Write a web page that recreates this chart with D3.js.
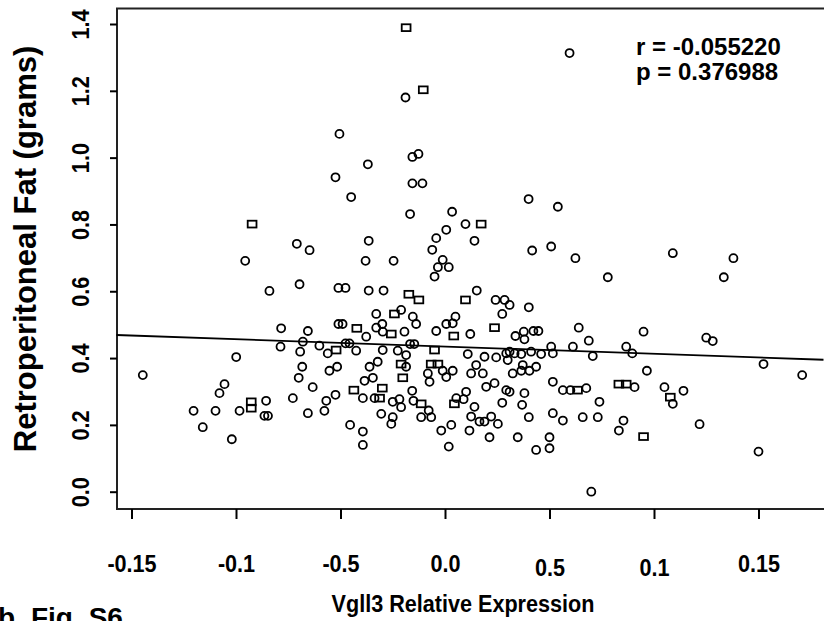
<!DOCTYPE html>
<html>
<head>
<meta charset="utf-8">
<script src="https://cdn.jsdelivr.net/npm/d3@7"></script>
<style>
  html, body { margin: 0; padding: 0; background: #fff; overflow: hidden; }
  text { font-family: "Liberation Sans", Arial, sans-serif; font-weight: bold; fill: #000; }
</style>
</head>
<body>
<div id="chart"></div>
<script>
// Scatter of Vgll3 expression vs retroperitoneal fat

// point values: x, y and marker kind (c = circle, s = square)
const ptX = [
  -0.0186, -0.0104, -0.0189, -0.0505, -0.0156, -0.0127, -0.0369, -0.0524, -0.0156, -0.0108,
  -0.0449, 0.0400, 0.0596, -0.0923, -0.0709, -0.0648, -0.0956, -0.0840, -0.0696, -0.0510,
  -0.0476, -0.0784, -0.0656, -0.0510, -0.0490, -0.0422, -0.0787, -0.0680, -0.0693, -0.0601,
  -0.0561, -0.0521, -0.0476, -0.0457, -0.0425, -0.0999, -0.0167, 0.0034, 0.0540, 0.0098,
  0.0173, 0.0006, -0.0365, -0.0042, 0.0141, -0.0061, 0.0417, 0.0508, 0.0624, -0.0380,
  -0.0246, -0.0011, -0.0034, 0.0018, -0.0050, -0.0365, -0.0294, -0.0173, -0.0125, 0.0152,
  0.0098, 0.0242, 0.0285, 0.0309, 0.0274, 0.0401, -0.0329, -0.0242, -0.0210, -0.0154,
  0.0050, -0.0329, -0.0300, -0.0298, -0.0257, -0.0194, -0.0138, -0.0042, 0.0006, 0.0037,
  0.0042, 0.0121, 0.0237, 0.0337, 0.0377, 0.0423, 0.0447, 0.0380, 0.0640, -0.0377,
  -0.0298, -0.0226, -0.0186, -0.0167, -0.0147, -0.0050, 0.0109, 0.0189, 0.0293, 0.0333,
  0.0412, 0.0460, 0.0508, 0.0516, 0.0612, 0.0688, 0.1090, 0.1380, 0.0779, 0.1334,
  0.0867, 0.0950, 0.1250, 0.1281, 0.0707, 0.0896, -0.1446, -0.0683, -0.0700, -0.0553,
  -0.0516, -0.1055, -0.1079, -0.0633, -0.0436, -0.0728, -0.1203, -0.1098, -0.0983, -0.0927,
  -0.0927, -0.0856, -0.0864, -0.0847, -0.0656, -0.0577, -0.0568, -0.0524, -0.1159, -0.1020,
  -0.0454, 0.0245, 0.0309, 0.0300, 0.0365, -0.0361, -0.0322, -0.0210, -0.0186, -0.0066,
  -0.0034, -0.0082, -0.0074, -0.0011, 0.0006, 0.0037, 0.0125, 0.0181, 0.0149, 0.0324,
  0.0365, 0.0404, 0.0372, 0.0436, -0.0385, -0.0345, -0.0202, 0.0197, 0.0237, 0.0293,
  0.0309, 0.0380, -0.0300, -0.0393, -0.0337, -0.0313, -0.0250, -0.0218, -0.0210, -0.0157,
  -0.0151, -0.0114, -0.0078, -0.0114, -0.0066, -0.0305, -0.0250, -0.0257, 0.0101, 0.0054,
  0.0045, 0.0089, 0.0141, 0.0125, 0.0165, 0.0189, 0.0221, 0.0253, 0.0274, 0.0369,
  0.0401, 0.0516, 0.0564, 0.0516, 0.0564, -0.0393, -0.0393, -0.0018, 0.0030, 0.0018,
  0.0117, 0.0213, 0.0348, 0.0436, 0.0500, 0.0500, 0.0600, 0.0634, 0.0676, 0.0659,
  0.0700, 0.0966, 0.1524, 0.1709, 0.0832, 0.0867, 0.0907, 0.0739, 0.1050, 0.1141,
  0.1078, 0.1090, 0.0731, 0.0854, 0.0832, 0.0950, 0.1218, 0.1500
];
const ptY = [
  1.389, 1.203, 1.180, 1.071, 1.002, 1.011, 0.980, 0.941, 0.923, 0.923,
  0.882, 0.876, 1.313, 0.801, 0.742, 0.723, 0.691, 0.601, 0.621, 0.610,
  0.610, 0.489, 0.481, 0.502, 0.502, 0.489, 0.434, 0.449, 0.419, 0.437,
  0.414, 0.424, 0.444, 0.444, 0.422, 0.403, 0.831, 0.838, 0.853, 0.801,
  0.801, 0.784, 0.751, 0.759, 0.751, 0.724, 0.722, 0.734, 0.699, 0.691,
  0.691, 0.694, 0.672, 0.672, 0.644, 0.602, 0.602, 0.591, 0.574, 0.602,
  0.574, 0.574, 0.574, 0.559, 0.532, 0.552, 0.532, 0.532, 0.544, 0.524,
  0.524, 0.491, 0.502, 0.479, 0.472, 0.479, 0.502, 0.481, 0.502, 0.504,
  0.466, 0.472, 0.491, 0.466, 0.479, 0.481, 0.481, 0.456, 0.491, 0.464,
  0.424, 0.422, 0.409, 0.442, 0.442, 0.424, 0.412, 0.404, 0.414, 0.414,
  0.419, 0.412, 0.434, 0.414, 0.434, 0.452, 0.714, 0.699, 0.642, 0.642,
  0.434, 0.479, 0.461, 0.451, 0.406, 0.414, 0.349, 0.374, 0.341, 0.362,
  0.374, 0.322, 0.295, 0.313, 0.304, 0.280, 0.242, 0.242, 0.242, 0.269,
  0.250, 0.272, 0.227, 0.227, 0.235, 0.242, 0.272, 0.290, 0.193, 0.157,
  0.200, 0.402, 0.419, 0.394, 0.412, 0.374, 0.389, 0.382, 0.374, 0.382,
  0.382, 0.354, 0.329, 0.362, 0.343, 0.362, 0.354, 0.354, 0.379, 0.354,
  0.362, 0.362, 0.379, 0.374, 0.332, 0.341, 0.341, 0.314, 0.325, 0.304,
  0.299, 0.295, 0.310, 0.280, 0.280, 0.280, 0.269, 0.277, 0.253, 0.302,
  0.272, 0.263, 0.243, 0.223, 0.223, 0.233, 0.223, 0.203, 0.299, 0.280,
  0.263, 0.277, 0.254, 0.225, 0.210, 0.210, 0.225, 0.203, 0.266, 0.260,
  0.223, 0.329, 0.304, 0.235, 0.213, 0.180, 0.140, 0.183, 0.200, 0.135,
  0.183, 0.163, 0.163, 0.125, 0.163, 0.130, 0.304, 0.304, 0.310, 0.223,
  0.000, 0.362, 0.382, 0.349, 0.322, 0.322, 0.313, 0.269, 0.313, 0.302,
  0.283, 0.263, 0.223, 0.213, 0.183, 0.165, 0.202, 0.120
];
const ptKind = [
  "sscccccccc", "cccscccccc", "cccccscccc", "cscccccccc", "sccccccccc",
  "cccccccssc", "sccccccscc", "ccccsccccc", "scsccccccc", "cccccscccc",
  "cccccccccc", "cccccccccc", "ccccsccccs", "sccccccccc", "cccccccscs",
  "sccccccccc", "ccccccsccc", "ccsccscccc", "cscccccccc", "sccccccccc",
  "cccccccccc", "cccccccscc", "ccccsscccc", "sccccscc"
].join("").split("");

// fitted regression line end points
const fitX = [-0.1572, 0.1811];
const fitY = [0.469, 0.395];

// axis ticks
const xTickValues = [-0.15, -0.1, -0.05, 0, 0.05, 0.1, 0.15];
const xTickLabels = ["-0.15", "-0.1", "-0.5", "0.0", "0.5", "0.1", "0.15"];
const yTickValues = [0, 0.2, 0.4, 0.6, 0.8, 1.0, 1.2, 1.4];
const yTickLabels = ["0.0", "0.2", "0.4", "0.6", "0.8", "1.0", "1.2", "1.4"];

const statLines = ["r = -0.055220", "p = 0.376988"];

const width = 824, height = 621;
const plotLeft = 117, plotTop = 8.5, plotBottom = 509, plotRight = 832;

const svg = d3.select("#chart").append("svg")
  .attr("width", width)
  .attr("height", height);

const x = d3.scaleLinear().domain([-0.15, 0.15]).range([131.5, 758.5]);
const y = d3.scaleLinear().domain([0, 1.4]).range([491.7, 24]);

// plot frame (right side runs off the picture)
svg.append("path")
  .attr("d", `M${plotRight},${plotTop}H${plotLeft}V${plotBottom}H${plotRight}`)
  .attr("fill", "none")
  .attr("stroke", "#222")
  .attr("stroke-width", 2);

// x axis
const xAxis = svg.append("g")
  .attr("transform", `translate(0,${plotBottom})`)
  .call(d3.axisBottom(x).tickValues(xTickValues).tickSize(10).tickPadding(0)
    .tickFormat((d, i) => xTickLabels[i]));
xAxis.select(".domain").remove();
xAxis.selectAll(".tick line").attr("stroke", "#000").attr("stroke-width", 2);
// the two middle-right labels sit a little lower in the original
xAxis.selectAll(".tick text")
  .attr("y", (d, i) => (i === 4 || i === 5) ? 67 : 63)
  .attr("dy", 0)
  .attr("font-size", 24)
  .attr("transform", "scale(0.9,1)")
  .attr("font-family", null);

// y axis, labels turned sideways
const yAxis = svg.append("g")
  .attr("transform", `translate(${plotLeft},0)`)
  .call(d3.axisLeft(y).tickValues(yTickValues).tickSize(7)
    .tickFormat((d, i) => yTickLabels[i]));
yAxis.select(".domain").remove();
yAxis.selectAll(".tick line").attr("stroke", "#000").attr("stroke-width", 2);
yAxis.selectAll(".tick text")
  .attr("x", 0)
  .attr("y", -28)
  .attr("dy", 0)
  .attr("text-anchor", "middle")
  .attr("font-size", 24)
  .attr("transform", "rotate(-90) scale(0.9,1)")
  .attr("font-family", null);

// regression line
const fit = fitX.map((v, i) => [v, fitY[i]]);
svg.append("path")
  .datum(fit)
  .attr("d", d3.line().x(d => x(d[0])).y(d => y(d[1])))
  .attr("fill", "none")
  .attr("stroke", "#000")
  .attr("stroke-width", 1.8);

// points
const points = ptX.map((v, i) => ({ x: v, y: ptY[i], kind: ptKind[i] || "c" }));

svg.append("g").selectAll("circle")
  .data(points.filter(d => d.kind === "c"))
  .join("circle")
  .attr("cx", d => x(d.x))
  .attr("cy", d => y(d.y))
  .attr("r", 4)
  .attr("fill", "none")
  .attr("stroke", "#000")
  .attr("stroke-width", 1.8);

svg.append("g").selectAll("rect")
  .data(points.filter(d => d.kind === "s"))
  .join("rect")
  .attr("x", d => x(d.x) - 4.4)
  .attr("y", d => y(d.y) - 3.4)
  .attr("width", 8.8)
  .attr("height", 6.8)
  .attr("fill", "none")
  .attr("stroke", "#000")
  .attr("stroke-width", 1.8);

// r and p
svg.append("g").selectAll("text")
  .data(statLines)
  .join("text")
  .attr("x", 636)
  .attr("y", (d, i) => 55 + i * 25)
  .attr("font-size", 24)
  .text(d => d);

// axis titles
svg.append("text")
  .attr("transform", "translate(463,612) scale(0.9,1)")
  .attr("text-anchor", "middle")
  .attr("font-size", 24)
  .text("Vgll3 Relative Expression");

svg.append("text")
  .attr("transform", "translate(36,249) rotate(-90)")
  .attr("text-anchor", "middle")
  .attr("font-size", 31)
  .text("Retroperitoneal Fat (grams)");

// caption cut by the bottom edge, as in the source figure
svg.append("text")
  .attr("x", -2)
  .attr("y", 627)
  .attr("font-size", 28)
  .attr("word-spacing", 8)
  .text("b Fig S6");
</script>
</body>
</html>
